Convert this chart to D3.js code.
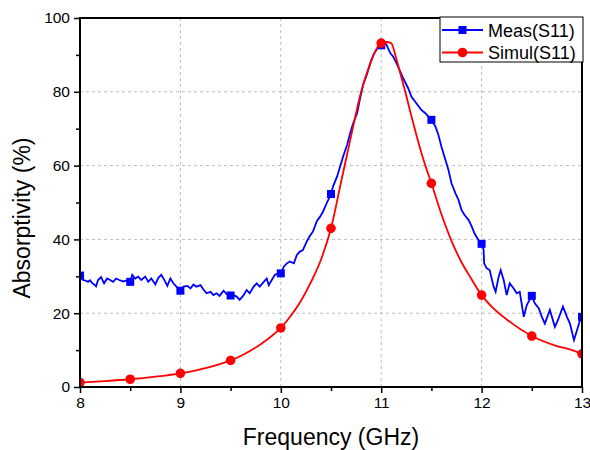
<!DOCTYPE html>
<html>
<head>
  <meta charset="UTF-8">
  <title>Absorptivity</title>
  <script src="https://d3js.org/d3.v7.min.js"></script>
  <style>
    body { margin: 0; background: #fff; }
    svg text { font-family: "Liberation Sans", Arial, sans-serif; fill: #000; }
  </style>
</head>
<body>
<svg></svg>
<script>
const measFreq = [8.00, 8.03, 8.06, 8.08, 8.10, 8.12, 8.14, 8.16, 8.18, 8.21, 8.24, 8.27, 8.30, 8.33, 8.36, 8.39, 8.43, 8.46,
  8.50, 8.52, 8.55, 8.58, 8.61, 8.65, 8.68, 8.71, 8.75, 8.78, 8.81, 8.85, 8.87, 8.90, 8.93, 8.96,
  9.00, 9.03, 9.07, 9.10, 9.13, 9.16, 9.20, 9.23, 9.26, 9.30, 9.33, 9.36, 9.39, 9.43, 9.46,
  9.50, 9.53, 9.56, 9.59, 9.63, 9.66, 9.69, 9.73, 9.76, 9.79, 9.83, 9.86, 9.88, 9.91, 9.94, 9.97,
  10.00, 10.03, 10.06, 10.09, 10.13, 10.16, 10.19, 10.22, 10.26, 10.29, 10.32, 10.36, 10.39, 10.42, 10.46,
  10.50, 10.52, 10.56, 10.59, 10.62, 10.66, 10.69, 10.72, 10.76, 10.79, 10.82, 10.86, 10.89, 10.92, 10.96,
  11.00, 11.05, 11.09, 11.12, 11.15, 11.19, 11.22, 11.27, 11.30, 11.35, 11.40, 11.44, 11.47,
  11.50, 11.54, 11.57, 11.60, 11.64, 11.67, 11.70, 11.74, 11.77, 11.80, 11.83, 11.87, 11.90, 11.93, 11.97,
  12.00, 12.02, 12.025, 12.05, 12.08, 12.12, 12.14, 12.17, 12.19, 12.22, 12.25, 12.28, 12.32, 12.35, 12.38, 12.42, 12.45,
  12.50, 12.53, 12.57, 12.60, 12.63, 12.68, 12.73, 12.76, 12.81, 12.85, 12.88, 12.92, 12.95, 12.99, 13.00];
const measAbs = [30.2, 29.0, 28.8, 28.5, 28.9, 28.2, 27.8, 27.3, 29.0, 29.8, 28.1, 29.4, 29.0, 28.5, 29.4, 29.0, 28.6, 28.8,
  28.5, 30.4, 29.4, 29.9, 29.0, 29.9, 28.5, 29.4, 27.8, 29.6, 30.4, 28.5, 27.4, 29.4, 28.1, 27.2,
  26.1, 27.2, 27.4, 26.7, 27.8, 27.2, 27.6, 26.4, 25.4, 25.8, 24.9, 25.4, 24.7, 26.1, 25.2,
  24.8, 24.9, 24.5, 23.6, 24.9, 26.3, 25.4, 27.2, 28.1, 27.2, 28.5, 29.4, 27.6, 29.0, 30.4, 30.8,
  30.8, 32.6, 33.5, 34.0, 33.5, 35.8, 36.7, 37.1, 39.5, 41.0, 42.1, 45.0, 46.1, 47.5, 50.0,
  52.3, 54.3, 57.0, 59.7, 62.4, 65.6, 68.7, 71.4, 74.2, 78.2, 81.9, 84.9, 87.7, 89.9, 91.7,
  92.6, 92.9, 90.5, 89.5, 87.9, 85.5, 83.6, 80.9, 78.7, 76.9, 75.1, 74.2, 73.3,
  72.4, 70.6, 68.3, 65.1, 61.5, 58.8, 55.2, 52.5, 50.7, 48.0, 46.6, 45.3, 43.6, 41.6, 39.8,
  38.8, 37.2, 33.5, 32.2, 31.7, 27.2, 25.8, 29.9, 31.7, 29.0, 24.9, 28.1, 26.7, 25.4, 25.8, 19.0, 22.2,
  24.7, 22.7, 21.3, 19.0, 17.2, 20.9, 16.3, 18.1, 21.8, 19.0, 17.2, 12.7, 15.4, 18.9, 19.0];

// simulated absorptivity (S11)
const simFreq = [8.0, 8.25, 8.5, 8.75, 9.0, 9.25, 9.5, 9.6, 9.7, 9.8, 9.9, 10.0, 10.1, 10.2, 10.3, 10.4,
  10.5, 10.6, 10.7, 10.8, 10.9, 10.95, 11.0, 11.05, 11.1, 11.15, 11.2, 11.24, 11.3, 11.4, 11.44,
  11.5, 11.6, 11.7, 11.8, 11.9, 12.0, 12.1, 12.25, 12.5, 12.75, 12.88, 13.0];
const simAbs = [1.2, 1.6, 2.1, 2.8, 3.7, 5.1, 7.2, 8.4, 9.9, 11.6, 13.6, 16.0, 19.3, 23.3, 28.4, 34.5,
  43.0, 55.5, 68.0, 80.0, 88.3, 91.5, 93.2, 93.5, 93.2, 89.0, 84.0, 80.0, 73.5, 63.5, 60.0,
  55.2, 46.8, 39.6, 33.8, 29.2, 24.9, 21.8, 18.3, 13.8, 11.1, 10.2, 9.0];

const xTicks = [8, 9, 10, 11, 12, 13];
const yTicks = [0, 20, 40, 60, 80, 100];
const seriesNames = ["Meas(S11)", "Simul(S11)"];

let width = 590, height = 450;
let margin = {left: 80, right: 8, top: 18, bottom: 63};
let svg = d3.select("svg").attr("width", width).attr("height", height);

let x = d3.scaleLinear().domain([8, 13]).range([margin.left, width - margin.right]);
let y = d3.scaleLinear().domain([0, 100]).range([height - margin.bottom, margin.top]);

let meas = measFreq.map((f, i) => ({f: f, v: measAbs[i]}));
let sim = simFreq.map((f, i) => ({f: f, v: simAbs[i]}));
let onHalf = d => Math.abs(d.f * 2 - Math.round(d.f * 2)) < 1e-6;

svg.append("clipPath").attr("id", "plot")
  .append("rect")
  .attr("x", x(8)).attr("y", y(100))
  .attr("width", x(13) - x(8)).attr("height", y(0) - y(100));

// grid
let grid = svg.append("g").attr("stroke", "#bdbdbd").attr("stroke-dasharray", "3,3").attr("stroke-width", 1);
grid.selectAll(".gx").data(xTicks.slice(1, -1)).enter().append("line")
  .attr("x1", d => x(d)).attr("x2", d => x(d))
  .attr("y1", y(0)).attr("y2", y(100));
grid.selectAll(".gy").data(yTicks.slice(1, -1)).enter().append("line")
  .attr("x1", x(8)).attr("x2", x(13))
  .attr("y1", d => y(d)).attr("y2", d => y(d));

// curves
let plot = svg.append("g").attr("clip-path", "url(#plot)");
plot.append("path").datum(meas)
  .attr("fill", "none").attr("stroke", "#0000ff").attr("stroke-width", 1.8)
  .attr("d", d3.line().x(d => x(d.f)).y(d => y(d.v)));
plot.selectAll(".sq").data(meas.filter(onHalf)).enter().append("rect")
  .attr("x", d => x(d.f) - 4).attr("y", d => y(d.v) - 4)
  .attr("width", 8).attr("height", 8).attr("fill", "#0000ff");
plot.append("path").datum(sim)
  .attr("fill", "none").attr("stroke", "#ff0000").attr("stroke-width", 1.8)
  .attr("d", d3.line().curve(d3.curveMonotoneX).x(d => x(d.f)).y(d => y(d.v)));
plot.selectAll(".dot").data(sim.filter(onHalf)).enter().append("circle")
  .attr("cx", d => x(d.f)).attr("cy", d => y(d.v))
  .attr("r", 4.8).attr("fill", "#ff0000");

// axes
let xAxis = d3.axisBottom(x).tickValues(xTicks).tickFormat(d3.format("d")).tickSize(6).tickPadding(4);
let yAxis = d3.axisLeft(y).tickValues(yTicks).tickSize(6).tickPadding(4);
let xMinor = d3.axisBottom(x).tickValues(d3.range(8.5, 13, 1)).tickFormat("").tickSize(4);
let yMinor = d3.axisLeft(y).tickValues(d3.range(10, 100, 20)).tickFormat("").tickSize(4);

[[xAxis, "translate(0," + y(0) + ")"], [xMinor, "translate(0," + y(0) + ")"],
 [yAxis, "translate(" + x(8) + ",0)"], [yMinor, "translate(" + x(8) + ",0)"]].forEach(a => {
  let g = svg.append("g").attr("transform", a[1]).call(a[0]);
  g.select(".domain").remove();
  g.selectAll("line").attr("stroke", "#000").attr("stroke-width", 1.5);
  g.selectAll("text").style("font-size", "15.5px");
});

svg.append("rect")
  .attr("x", x(8)).attr("y", y(100))
  .attr("width", x(13) - x(8)).attr("height", y(0) - y(100))
  .attr("fill", "none").attr("stroke", "#000").attr("stroke-width", 2);

// axis titles
svg.append("text").attr("x", (x(8) + x(13)) / 2).attr("y", 445)
  .attr("text-anchor", "middle").style("font-size", "23px").text("Frequency (GHz)");
svg.append("text").attr("transform", "translate(30,218) rotate(-90)")
  .attr("text-anchor", "middle").style("font-size", "23px").text("Absorptivity (%)");

// legend
let legend = svg.append("g").attr("transform", "translate(440,17)");
legend.append("rect").attr("width", 143).attr("height", 45)
  .attr("fill", "#fff").attr("stroke", "#000").attr("stroke-width", 1);
let colors = ["#0000ff", "#ff0000"];
seriesNames.forEach((name, i) => {
  let ly = 13 + i * 22.5;
  legend.append("line").attr("x1", 2).attr("x2", 43).attr("y1", ly).attr("y2", ly)
    .attr("stroke", colors[i]).attr("stroke-width", 1.8);
  if (i == 0) {
    legend.append("rect").attr("x", 18.5).attr("y", ly - 4).attr("width", 8).attr("height", 8).attr("fill", colors[i]);
  } else {
    legend.append("circle").attr("cx", 22.5).attr("cy", ly).attr("r", 4.8).attr("fill", colors[i]);
  }
  legend.append("text").attr("x", 48).attr("y", ly + 6.5).style("font-size", "18px").text(name);
});
</script>
</body>
</html>
